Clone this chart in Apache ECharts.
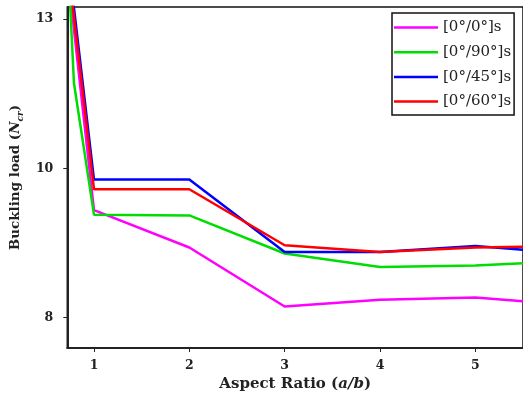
<!DOCTYPE html>
<html>
<head>
<meta charset="utf-8">
<script src="https://cdn.jsdelivr.net/npm/echarts@6/dist/echarts.min.js"></script>
<style>
  html, body { margin: 0; padding: 0; background: #fff; }
  #chart { width: 523px; height: 399px; }
</style>
</head>
<body>
<div id="chart"></div>
<script>
// Aspect ratios (a/b) at which each layup was evaluated
const ratios = [0.5, 1, 2, 3, 4, 5, 5.5];
const ratiosGreen = [0.5, 0.79, 1, 2, 3, 4, 5, 5.5];

// Buckling loads (axis units: ticks at 8 / 10 / 12, labelled 8 / 10 / 13)
const layup0_0 = [15.2, 9.44, 8.94, 8.15, 8.24, 8.27, 8.22];
const layup0_90 = [18.8, 11.14, 9.38, 9.37, 8.86, 8.68, 8.70, 8.73];
const layup0_45 = [15.32, 9.85, 9.85, 8.88, 8.88, 8.96, 8.91];
const layup0_60 = [15.23, 9.72, 9.72, 8.97, 8.88, 8.94, 8.95];

const xTicks = [1, 2, 3, 4, 5];
const yTickValues = [8, 10, 12];
const yTickLabels = ["8", "10", "13"];

const SERIF = "'DejaVu Serif', 'Liberation Serif', serif";

function pairs(xs, ys) {
  return xs.map((x, i) => [x, ys[i]]);
}

const chart = echarts.init(document.getElementById("chart"), null, { renderer: "canvas" });

const lineSeries = (name, color, xs, ys) => ({
  name,
  type: "line",
  data: pairs(xs, ys),
  symbol: "none",
  color,
  lineStyle: { color, width: 2.5 },
  clip: true,
  animation: false,
});

chart.setOption({
  backgroundColor: "#fff",
  animation: false,
  grid: {
    left: 67,
    top: 7,
    width: 460,
    bottom: 51,
    show: true,
    borderColor: "#111",
    borderWidth: 1.5,
    backgroundColor: "transparent",
  },
  legend: {
    orient: "vertical",
    left: 392,
    top: 13,
    padding: [7, 3, 6, 2],
    icon: "rect",
    itemWidth: 44,
    itemHeight: 2.5,
    itemGap: 9.7,
    backgroundColor: "#fff",
    borderColor: "#111",
    borderWidth: 1.5,
    textStyle: { fontFamily: SERIF, fontSize: 15, lineHeight: 14, color: "#222" },
    data: ["[0°/0°]s", "[0°/90°]s", "[0°/45°]s", "[0°/60°]s"],
  },
  xAxis: {
    type: "value",
    min: 0.72,
    max: 5.5,
    name: "Aspect Ratio ({i|a/b})",
    nameLocation: "middle",
    nameGap: 29,
    nameTextStyle: {
      fontFamily: SERIF,
      fontSize: 15,
      fontWeight: "bold",
      color: "#222",
      rich: {
        i: { fontFamily: SERIF, fontSize: 15, fontWeight: "bold", fontStyle: "italic", color: "#222" },
      },
    },
    splitLine: { show: false },
    axisLine: { onZero: false, lineStyle: { color: "#222", width: 2 } },
    axisTick: { show: true, length: 4, inside: false, customValues: xTicks, lineStyle: { color: "#222" } },
    axisLabel: {
      customValues: xTicks,
      margin: 11,
      fontFamily: SERIF,
      fontSize: 12.5,
      fontWeight: "bold",
      color: "#222",
    },
  },
  yAxis: {
    type: "value",
    min: 7.594,
    max: 12.161,
    name: "Buckling load ({i|N}{sub|cr})",
    nameLocation: "middle",
    nameGap: 41,
    nameTextStyle: {
      fontFamily: SERIF,
      fontSize: 13.5,
      fontWeight: "bold",
      color: "#222",
      rich: {
        i: { fontFamily: SERIF, fontSize: 13.5, fontWeight: "bold", fontStyle: "italic", color: "#222" },
        sub: { fontFamily: SERIF, fontSize: 9, fontWeight: "bold", fontStyle: "italic", color: "#222", verticalAlign: "bottom", lineHeight: 20 },
      },
    },
    splitLine: { show: false },
    axisLine: { show: true, onZero: false, lineStyle: { color: "#222", width: 2 } },
    axisTick: { show: true, length: 4, customValues: yTickValues, lineStyle: { color: "#222" } },
    axisLabel: {
      customValues: yTickValues,
      margin: 14,
      fontFamily: SERIF,
      fontSize: 12.5,
      fontWeight: "bold",
      color: "#222",
      formatter: (v) => yTickLabels[yTickValues.indexOf(v)] ?? "",
    },
  },
  series: [
    lineSeries("[0°/0°]s", "#ff00ff", ratios, layup0_0),
    lineSeries("[0°/90°]s", "#00dd00", ratiosGreen, layup0_90),
    lineSeries("[0°/45°]s", "#0000ff", ratios, layup0_45),
    lineSeries("[0°/60°]s", "#ff0000", ratios, layup0_60),
  ],
});
</script>
</body>
</html>
